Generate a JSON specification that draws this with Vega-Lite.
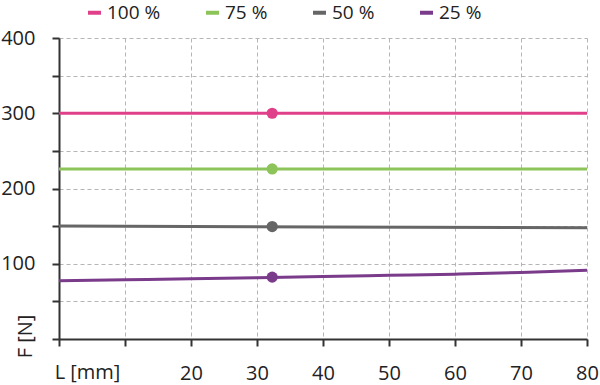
{
  "$schema": "https://vega.github.io/schema/vega-lite/v6.json",
  "width": 528,
  "height": 301,
  "autosize": {"type": "none"},
  "padding": {"left": 59, "top": 38, "right": 13, "bottom": 46},
  "background": "white",
  "config": {
    "font": "Open Sans",
    "view": {"stroke": null},
    "axis": {
      "labelFont": "Open Sans",
      "titleFont": "Open Sans",
      "labelFontSize": 20,
      "titleFontSize": 20,
      "labelColor": "#222",
      "titleColor": "#222",
      "titleFontWeight": "normal",
      "domainColor": "#333",
      "domainWidth": 2,
      "tickColor": "#333",
      "tickWidth": 2,
      "tickSize": 7,
      "gridColor": "#b5b5b5",
      "gridDash": [4, 3],
      "gridWidth": 1
    }
  },
  "datasets": {
    "lines": [
      {"L": 0, "F": 300, "s": "100 %"},
      {"L": 80, "F": 300, "s": "100 %"},
      {"L": 0, "F": 226, "s": "75 %"},
      {"L": 80, "F": 226, "s": "75 %"},
      {"L": 0, "F": 150.2, "s": "50 %"},
      {"L": 40, "F": 149, "s": "50 %"},
      {"L": 80, "F": 147.8, "s": "50 %"},
      {"L": 0, "F": 77.5, "s": "25 %"},
      {"L": 10, "F": 78.8, "s": "25 %"},
      {"L": 20, "F": 80.1, "s": "25 %"},
      {"L": 30, "F": 81.5, "s": "25 %"},
      {"L": 40, "F": 83, "s": "25 %"},
      {"L": 50, "F": 84.6, "s": "25 %"},
      {"L": 60, "F": 86.2, "s": "25 %"},
      {"L": 70, "F": 88.3, "s": "25 %"},
      {"L": 80, "F": 91.5, "s": "25 %"}
    ],
    "points": [
      {"L": 32.3, "F": 300, "s": "100 %"},
      {"L": 32.3, "F": 226, "s": "75 %"},
      {"L": 32.3, "F": 149.4, "s": "50 %"},
      {"L": 32.3, "F": 82.2, "s": "25 %"}
    ]
  },
  "encoding": {
    "x": {
      "field": "L",
      "type": "quantitative",
      "scale": {"domain": [0, 80], "nice": false, "zero": false},
      "axis": {
        "values": [0, 10, 20, 30, 40, 50, 60, 70, 80],
        "labelExpr": "datum.value >= 20 ? datum.label : ''",
        "labelBaseline": "alphabetic",
        "labelPadding": 33,
        "labelFlush": false,
        "title": "L [mm]",
        "titleX": 28,
        "titleY": 39,
        "titleAlign": "center",
        "titleBaseline": "alphabetic",
        "grid": true
      }
    },
    "y": {
      "field": "F",
      "type": "quantitative",
      "scale": {"domain": [0, 400], "nice": false},
      "axis": {
        "values": [0, 50, 100, 150, 200, 250, 300, 350, 400],
        "labelExpr": "datum.value > 0 && datum.value % 100 == 0 ? datum.label : ''",
        "labelPadding": 17,
        "labelFlush": false,
        "title": "F [N]",
        "titleAngle": -90,
        "titleX": -28,
        "titleY": 298,
        "titleAlign": "center",
        "titleBaseline": "alphabetic",
        "grid": true
      }
    },
    "color": {
      "field": "s",
      "type": "nominal",
      "scale": {
        "domain": ["100 %", "75 %", "50 %", "25 %"],
        "range": ["#e0408a", "#8cc45a", "#666666", "#7b3b8b"]
      },
      "legend": {
        "orient": "none",
        "legendX": 26,
        "legendY": -35,
        "direction": "horizontal",
        "title": null,
        "symbolType": "stroke",
        "symbolSize": 169,
        "symbolStrokeWidth": 4,
        "labelFont": "Open Sans",
        "labelFontSize": 19,
        "labelColor": "#222",
        "labelOffset": 3,
        "gridAlign": "each",
        "columnPadding": 37,
        "padding": 0
      }
    }
  },
  "layer": [
    {
      "data": {"name": "lines"},
      "mark": {"type": "line", "strokeWidth": 3, "interpolate": "monotone"}
    },
    {
      "data": {"name": "points"},
      "mark": {"type": "circle", "size": 125, "opacity": 1}
    }
  ]
}
